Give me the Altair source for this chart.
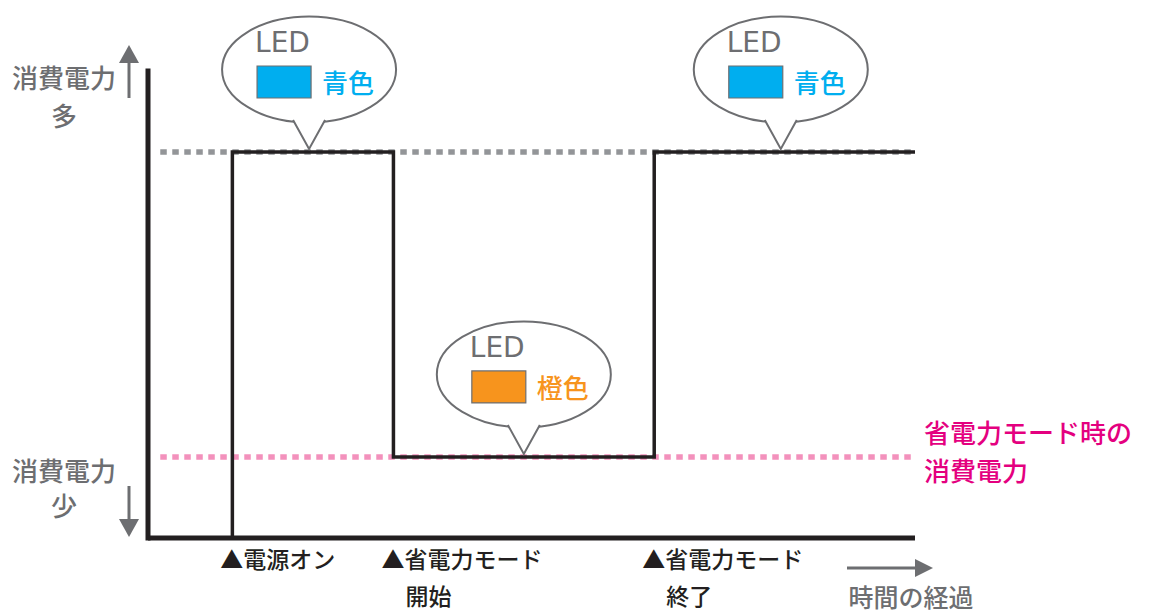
import altair as alt
import pandas as pd

# ---------------- data ----------------
step_times = [11, 11, 32, 32, 66, 66, 100]
step_power = [0, 100, 100, 21, 21, 100, 100]

level_power = [100, 21]          # normal / power-saving consumption
level_start = [1.6, 1.6]
level_end = [100, 100]

event_times = [11, 32, 66]
event_line1 = ["▲電源オン", "▲省電力モード", "▲省電力モード"]
event_line2 = ["", "開始", "終了"]

bubble_times = [21, 49, 82.5]
bubble_power = [100, 21, 100]
bubble_led = ["LED", "LED", "LED"]
bubble_names = ["青色", "橙色", "青色"]
bubble_colors = ["#00aeef", "#f7941d", "#00aeef"]

axis_time_end = 100
axis_power_top = 121

# ---------------- layout / style ----------------
W, H = 1133, 608
PX_PER_T = 7.67     # pixels per time unit
PX_PER_P = 3.86     # pixels per power unit
X0_PAGE, Y0_PAGE = 148, 538   # page position of origin

x_dom = [(8 - X0_PAGE) / PX_PER_T, (8 + W - X0_PAGE) / PX_PER_T]
y_dom = [(Y0_PAGE - (8 + H)) / PX_PER_P, (Y0_PAGE - 8) / PX_PER_P]
XS = alt.Scale(domain=x_dom, nice=False, zero=False)
YS = alt.Scale(domain=y_dom, nice=False, zero=False)


def X(f):
    return alt.X(f, type="quantitative", scale=XS, axis=None)


def Y(f):
    return alt.Y(f, type="quantitative", scale=YS, axis=None)


def pv(v):  # page pixel -> plot pixel
    return alt.value(v - 8)


JP = "Noto Sans CJK JP"
JPW = 500
GRAY = "#6d6e71"
BLACK = "#231f20"
PINK_TXT = "#e4007f"

S = 90.0
SYM_SIZE = (2 * S) ** 2


def fmt(v):
    return f"{v / S:.4f}"


def ellipse_path(cx, cy, rx, ry):
    k = 0.5523
    return (
        f"M {fmt(cx + rx)} {fmt(cy)} "
        f"C {fmt(cx + rx)} {fmt(cy + k * ry)} {fmt(cx + k * rx)} {fmt(cy + ry)} {fmt(cx)} {fmt(cy + ry)} "
        f"C {fmt(cx - k * rx)} {fmt(cy + ry)} {fmt(cx - rx)} {fmt(cy + k * ry)} {fmt(cx - rx)} {fmt(cy)} "
        f"C {fmt(cx - rx)} {fmt(cy - k * ry)} {fmt(cx - k * rx)} {fmt(cy - ry)} {fmt(cx)} {fmt(cy - ry)} "
        f"C {fmt(cx + k * rx)} {fmt(cy - ry)} {fmt(cx + rx)} {fmt(cy - k * ry)} {fmt(cx + rx)} {fmt(cy)} Z"
    )


ELL = ellipse_path(0, -82.5, 87, 53)
TAIL = f"M {fmt(-16)} {fmt(-32)} L {fmt(0)} {fmt(-3)} L {fmt(16)} {fmt(-32)}"
SQ = f"M {fmt(-52)} {fmt(-86)} L {fmt(2)} {fmt(-86)} L {fmt(2)} {fmt(-54)} L {fmt(-52)} {fmt(-54)} Z"

# ---------------- tables ----------------
df_step = pd.DataFrame({"t": step_times, "p": step_power, "i": list(range(len(step_times)))})
df_lv = pd.DataFrame({"p": level_power, "t0": level_start, "t1": level_end})
df_ev = pd.DataFrame({"t": event_times, "l1": event_line1, "l2": event_line2, "p": [0] * len(event_times)})
df_b = pd.DataFrame({"t": bubble_times, "p": bubble_power, "led": bubble_led,
                     "name": bubble_names, "color": bubble_colors})
df_vax = pd.DataFrame({"t": [0], "p0": [0], "p1": [axis_power_top]})
df_hax = pd.DataFrame({"t0": [0], "t1": [axis_time_end], "p": [0]})
one = pd.DataFrame({"a": [0]})

layers = []

# dotted reference levels
layers.append(alt.Chart(df_lv.iloc[[0]]).mark_rule(color="#939598", strokeWidth=5.5, strokeDash=[6.5, 5.5])
              .encode(x=X("t0"), x2="t1", y=Y("p")))
layers.append(alt.Chart(df_lv.iloc[[1]]).mark_rule(color="#f391bc", strokeWidth=5.5, strokeDash=[6.5, 5.5])
              .encode(x=X("t0"), x2="t1", y=Y("p")))

# axes
layers.append(alt.Chart(df_vax).mark_rule(color=BLACK, strokeWidth=5, strokeCap="square")
              .encode(x=X("t"), y=Y("p0"), y2="p1"))
layers.append(alt.Chart(df_hax).mark_rule(color=BLACK, strokeWidth=5)
              .encode(x=X("t0"), x2="t1", y=Y("p")))

# step line
layers.append(alt.Chart(df_step).mark_line(color=BLACK, strokeWidth=3.5, strokeJoin="miter")
              .encode(x=X("t"), y=Y("p"), order="i:Q"))

# bubbles
layers.append(alt.Chart(df_b).mark_point(shape=ELL, size=SYM_SIZE, filled=True, fill="white",
                                         stroke=GRAY, strokeWidth=2, opacity=1, fillOpacity=1, strokeOpacity=1)
              .encode(x=X("t"), y=Y("p")))
layers.append(alt.Chart(df_b).mark_point(shape=TAIL, size=SYM_SIZE, filled=True, fill="white",
                                         stroke=GRAY, strokeWidth=2, opacity=1, fillOpacity=1, strokeOpacity=1)
              .encode(x=X("t"), y=Y("p")))
layers.append(alt.Chart(df_b).mark_point(shape=SQ, size=SYM_SIZE, filled=True,
                                         stroke=GRAY, strokeWidth=1.2, opacity=1, fillOpacity=1, strokeOpacity=1)
              .encode(x=X("t"), y=Y("p"), fill=alt.Fill("color:N", scale=None)))
layers.append(alt.Chart(df_b).mark_text(align="left", baseline="middle", dx=-54, dy=-108,
                                        font="DejaVu Sans", fontSize=28, color=GRAY)
              .encode(x=X("t"), y=Y("p"), text="led:N"))
layers.append(alt.Chart(df_b).mark_text(align="left", baseline="middle", dx=13, dy=-67,
                                        font=JP, fontSize=26, fontWeight=JPW)
              .encode(x=X("t"), y=Y("p"), text="name:N", color=alt.Color("color:N", scale=None)))

# event labels
layers.append(alt.Chart(df_ev).mark_text(align="left", baseline="middle", dx=-12, dy=23,
                                         font=JP, fontSize=23, fontWeight=JPW, color=BLACK)
              .encode(x=X("t"), y=Y("p"), text="l1:N"))
layers.append(alt.Chart(df_ev).mark_text(align="left", baseline="middle", dx=12, dy=60,
                                         font=JP, fontSize=23, fontWeight=JPW, color=BLACK)
              .encode(x=X("t"), y=Y("p"), text="l2:N"))

# pink label
layers.append(alt.Chart(one).mark_text(align="left", baseline="middle", font=JP, fontSize=26,
                                       fontWeight=JPW, color=PINK_TXT)
              .encode(x=pv(924), y=pv(435), text=alt.value("省電力モード時の")))
layers.append(alt.Chart(one).mark_text(align="left", baseline="middle", font=JP, fontSize=26,
                                       fontWeight=JPW, color=PINK_TXT)
              .encode(x=pv(924), y=pv(473), text=alt.value("消費電力")))

# left side labels
for txt, yy in [("消費電力", 80), ("多", 118), ("消費電力", 473), ("少", 508)]:
    layers.append(alt.Chart(one).mark_text(align="center", baseline="middle", font=JP, fontSize=26,
                                           fontWeight=JPW, color=GRAY)
                  .encode(x=pv(64), y=pv(yy), text=alt.value(txt)))

# arrows
layers.append(alt.Chart(one).mark_rule(color=GRAY, strokeWidth=3)
              .encode(x=pv(129), y=pv(63), y2=pv(98)))
layers.append(alt.Chart(one).mark_point(shape="M 0 -1.8 L 1 0 L -1 0 Z", size=400, filled=True,
                                        color=GRAY, opacity=1)
              .encode(x=pv(129), y=pv(63)))
layers.append(alt.Chart(one).mark_rule(color=GRAY, strokeWidth=3)
              .encode(x=pv(129), y=pv(486), y2=pv(520)))
layers.append(alt.Chart(one).mark_point(shape="M 0 1.8 L 1 0 L -1 0 Z", size=400, filled=True,
                                        color=GRAY, opacity=1)
              .encode(x=pv(129), y=pv(519)))
layers.append(alt.Chart(one).mark_rule(color=GRAY, strokeWidth=3)
              .encode(x=pv(847), x2=pv(916), y=pv(568)))
layers.append(alt.Chart(one).mark_point(shape="M 1.8 0 L 0 -0.9 L 0 0.9 Z", size=400, filled=True,
                                        color=GRAY, opacity=1)
              .encode(x=pv(915), y=pv(568)))
layers.append(alt.Chart(one).mark_text(align="center", baseline="middle", font=JP, fontSize=25,
                                       fontWeight=JPW, color=GRAY)
              .encode(x=pv(911), y=pv(599), text=alt.value("時間の経過")))

chart = (alt.layer(*layers)
         .properties(width=W, height=H, padding=0, autosize=alt.AutoSizeParams(type="none"),
                     background="white")
         .configure_view(stroke=None))

chart.save("out.html", embed_options={"renderer": "svg", "actions": False})
